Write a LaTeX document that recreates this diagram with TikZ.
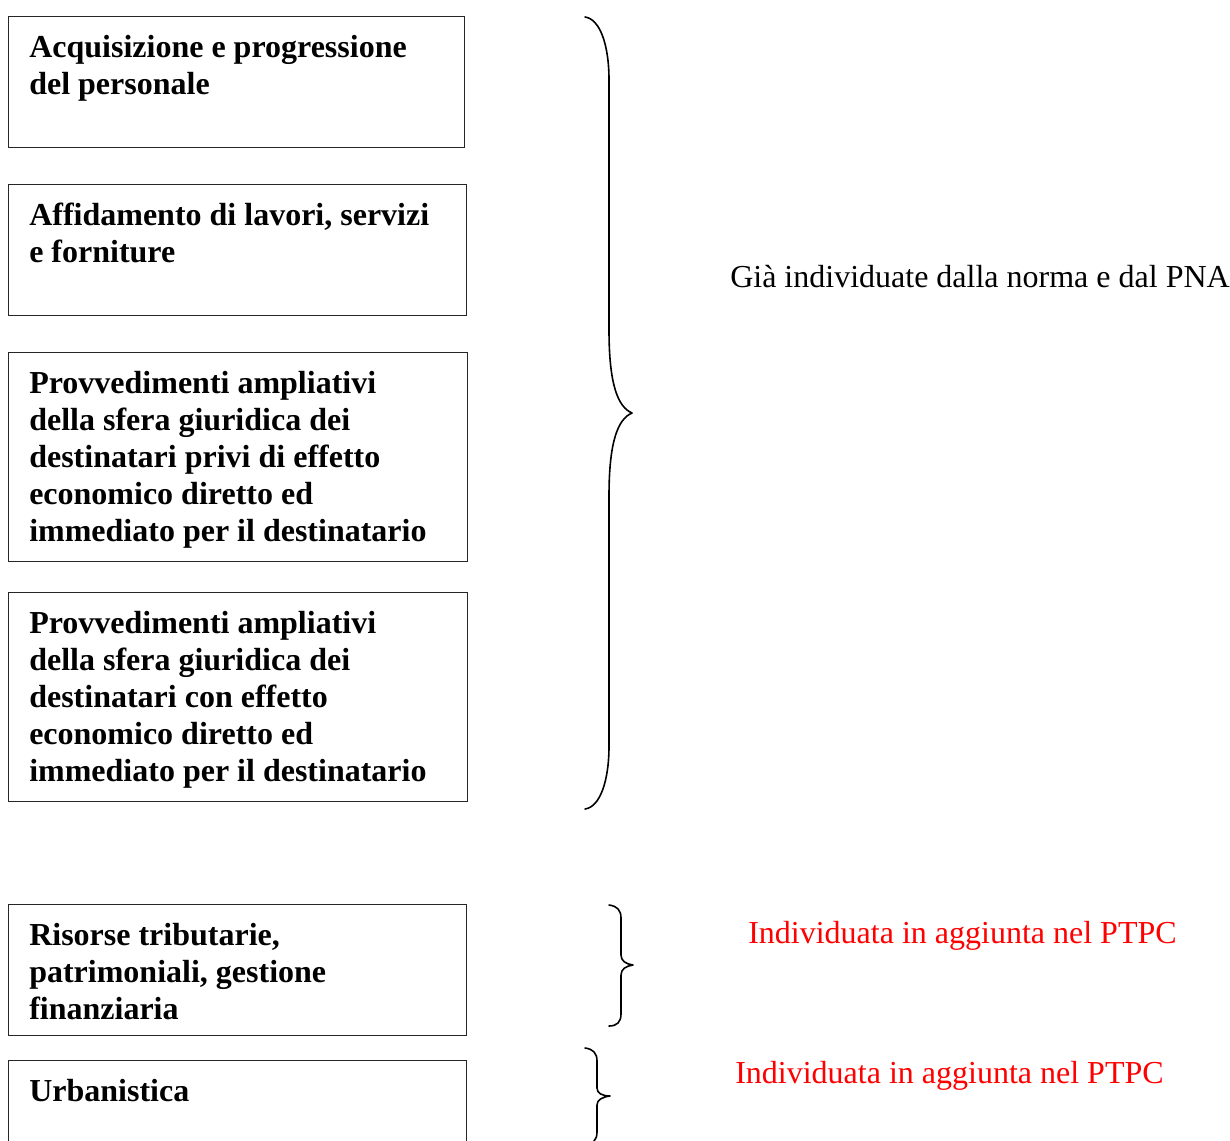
\documentclass[tikz,border=0pt]{standalone}
\usepackage{fontspec}
\setmainfont{Liberation Serif}
\begin{document}
\begin{tikzpicture}[x=0.75pt,y=-0.75pt,
  boxstyle/.style={draw=black!85,line width=0.8pt,rectangle,inner sep=0pt,anchor=north west},
  boxtext/.style={anchor=base west,inner sep=0pt,font=\fontsize{24}{27.75}\selectfont\bfseries},
  sidetext/.style={anchor=base west,inner sep=0pt,font=\fontsize{24}{27.75}\selectfont},
  bracestyle/.style={line width=1.2pt,line cap=round,line join=round}]
\clip (0,0) rectangle (1230,1140);
\fill[white] (0,0) rectangle (1230,1140);
% boxes
\node[boxstyle,minimum width=456*0.75pt,minimum height=131*0.75pt] (b1) at (8,16) {};
\node[boxstyle,minimum width=458*0.75pt,minimum height=131*0.75pt] (b2) at (8,184) {};
\node[boxstyle,minimum width=459*0.75pt,minimum height=209*0.75pt] (b3) at (8,352) {};
\node[boxstyle,minimum width=459*0.75pt,minimum height=209*0.75pt] (b4) at (8,592) {};
\node[boxstyle,minimum width=458*0.75pt,minimum height=131*0.75pt] (b5) at (8,904) {};
\node[boxstyle,minimum width=458*0.75pt,minimum height=131*0.75pt] (b6) at (8,1060) {};
% texts
\node[boxtext] (t1) at (29,57) {\begin{tabular}[t]{@{}l@{}}Acquisizione e progressione\\del personale\end{tabular}};
\node[boxtext] (t2) at (29,225) {\begin{tabular}[t]{@{}l@{}}Affidamento di lavori, servizi\\e forniture\end{tabular}};
\node[boxtext] (t3) at (29,393) {\begin{tabular}[t]{@{}l@{}}Provvedimenti ampliativi\\della sfera giuridica dei\\destinatari privi di effetto\\economico diretto ed\\immediato per il destinatario\end{tabular}};
\node[boxtext] (t4) at (29,633) {\begin{tabular}[t]{@{}l@{}}Provvedimenti ampliativi\\della sfera giuridica dei\\destinatari con effetto\\economico diretto ed\\immediato per il destinatario\end{tabular}};
\node[boxtext] (t5) at (29,945) {\begin{tabular}[t]{@{}l@{}}Risorse tributarie,\\patrimoniali, gestione\\finanziaria\end{tabular}};
\node[boxtext] (t6) at (29,1101) {Urbanistica};
% side labels
\node[sidetext] (s1) at (730,287) {Già individuate dalla norma e dal PNA};
\node[sidetext,text=red] (s2) at (748,943) {Individuata in aggiunta nel PTPC};
\node[sidetext,text=red] (s3) at (735,1083) {Individuata in aggiunta nel PTPC};
% braces
\draw[bracestyle] (585,17) .. controls (600,19) and (609,45) .. (609,80) -- (609,330)
  .. controls (609,385) and (618,407) .. (632,413)
  .. controls (618,419) and (609,441) .. (609,496) -- (609,746)
  .. controls (609,781) and (600,807) .. (585,809);
\draw[bracestyle] (609,905) .. controls (617,906) and (621,910) .. (621,918) -- (621,955)
  .. controls (621,961) and (626,964) .. (633,965)
  .. controls (626,966) and (621,969) .. (621,975) -- (621,1014)
  .. controls (621,1022) and (617,1026) .. (609,1026);
\draw[bracestyle] (585,1048) .. controls (593,1049) and (597,1053) .. (597,1061) -- (597,1088)
  .. controls (597,1093) and (602,1096) .. (610,1096)
  .. controls (602,1097) and (597,1100) .. (597,1105) -- (597,1132)
  .. controls (597,1140) and (593,1144) .. (585,1145);
\end{tikzpicture}
\end{document}
